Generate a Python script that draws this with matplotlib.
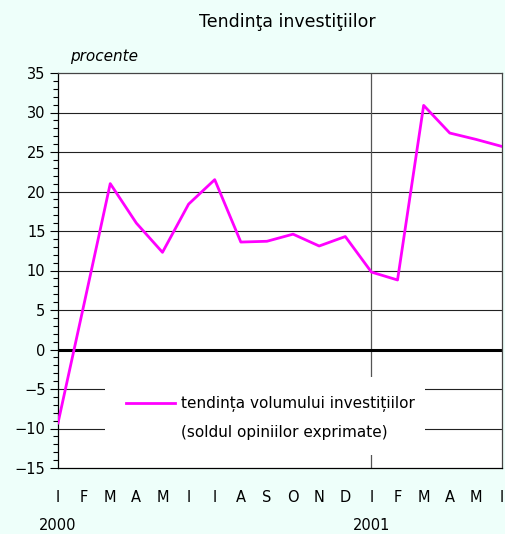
import matplotlib
matplotlib.use("Agg")
import matplotlib.pyplot as plt
from matplotlib.lines import Line2D
from matplotlib.patches import Rectangle
from matplotlib.ticker import MultipleLocator

plt.rcParams["font.family"] = ["DejaVu Sans"]

# monthly balance of opinions, Jan 2000 .. Jun 2001
months = ["I", "F", "M", "A", "M", "I", "I", "A", "S", "O", "N", "D",
          "I", "F", "M", "A", "M", "I"]
values = [-9.3, 5.8, 21.0, 16.0, 12.3, 18.4, 21.5, 13.6, 13.7, 14.6, 13.1, 14.3,
          9.8, 8.8, 30.9, 27.4, 26.6, 25.7]
years = ["2000", "2001"]
year_pos = [0, 12]

BG = "#eefffa"
W, H = 506, 534

fig = plt.figure(figsize=(W / 100, H / 100), dpi=100, facecolor=BG)
ax = fig.add_axes([58 / W, 1 - 468 / H, 444 / W, 395 / H])
ax.set_facecolor("white")

x = list(range(len(values)))
ax.set_xlim(0, len(values) - 1)
ax.set_ylim(-15, 35)

for y in range(-15, 36, 5):
    if y in (-15, 0, 35):
        continue
    ax.axhline(y, color="#222222", lw=0.8, zorder=1)
ax.axhline(0, color="black", lw=2.2, zorder=2)
ax.axvline(12, color="#555555", lw=0.9, zorder=1)

# white box behind the legend hides the grid
ax.add_patch(Rectangle(((105 - 58) / 444, (468 - 455) / 395), (425 - 105) / 444,
                       (455 - 377) / 395, transform=ax.transAxes,
                       facecolor="white", edgecolor="none", zorder=3))

line, = ax.plot(x, values, color="#ff00ff", lw=2.0, zorder=4)

blank = Line2D([], [], color="none")
leg = ax.legend([line, blank],
                ["tendința volumului investițiilor", "(soldul opiniilor exprimate)"],
                loc="upper left", bbox_to_anchor=((126 - 58) / 444, (468 - 396) / 395),
                frameon=False, fontsize=11, handlelength=3.2, handletextpad=0.38,
                labelspacing=0.85, borderpad=0, borderaxespad=0)
leg.set_zorder(5)

ax.yaxis.set_major_locator(MultipleLocator(5))
ax.yaxis.set_minor_locator(MultipleLocator(1))
ax.tick_params(axis="y", which="major", length=6, width=0.8, pad=3, labelsize=10.5)
ax.tick_params(axis="y", which="minor", length=3.5, width=0.8)

ax.set_xticks(x)
ax.set_xticklabels(months, fontsize=10.5)
ax.tick_params(axis="x", length=0, pad=16)

for pos, yr in zip(year_pos, years):
    ax.text(pos, -0.145, yr, transform=ax.get_xaxis_transform(),
            ha="center", va="center", fontsize=10.5)

for side in ("top", "right"):
    ax.spines[side].set_color("#444444")
    ax.spines[side].set_linewidth(0.9)
for side in ("left", "bottom"):
    ax.spines[side].set_color("black")
    ax.spines[side].set_linewidth(0.9)

fig.text(287 / W, 1 - 22 / H, "Tendinţa investiţiilor", ha="center", va="center",
         fontsize=12.5)
fig.text(70 / W, 1 - 57 / H, "procente", ha="left", va="center",
         fontsize=11, style="italic")

fig.savefig("out.png", dpi=100, facecolor=BG)
